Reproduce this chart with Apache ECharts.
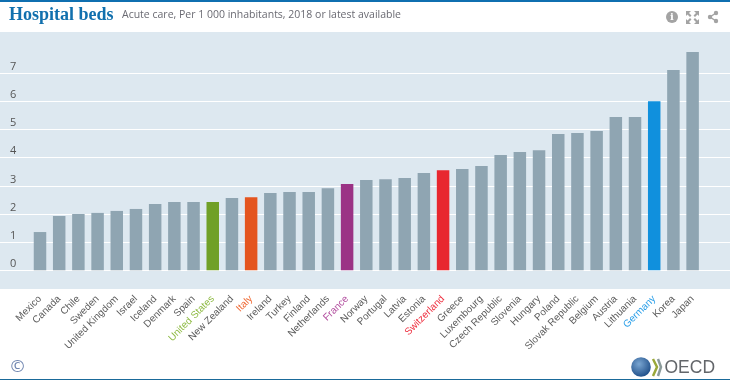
<!DOCTYPE html>
<html>
<head>
<meta charset="utf-8">
<style>
  html, body { margin: 0; padding: 0; background: #fff; }
  #chart { width: 730px; height: 380px; }
</style>
<script src="https://cdn.jsdelivr.net/npm/echarts@6/dist/echarts.min.js"></script>
</head>
<body>
<div id="chart"></div>
<script>
const countries = ['Mexico', 'Canada', 'Chile', 'Sweden', 'United Kingdom', 'Israel', 'Iceland', 'Denmark', 'Spain',
  'United States', 'New Zealand', 'Italy', 'Ireland', 'Turkey', 'Finland', 'Netherlands', 'France', 'Norway',
  'Portugal', 'Latvia', 'Estonia', 'Switzerland', 'Greece', 'Luxembourg', 'Czech Republic', 'Slovenia', 'Hungary',
  'Poland', 'Slovak Republic', 'Belgium', 'Austria', 'Lithuania', 'Germany', 'Korea', 'Japan'];
const beds = [1.36, 1.93, 2.0, 2.04, 2.11, 2.18, 2.36, 2.43, 2.43,
  2.43, 2.57, 2.6, 2.75, 2.78, 2.78, 2.92, 3.07, 3.21,
  3.24, 3.28, 3.46, 3.56, 3.6, 3.71, 4.1, 4.2, 4.27,
  4.84, 4.88, 4.95, 5.45, 5.45, 6.01, 7.12, 7.76];
const yTicks = [0, 1, 2, 3, 4, 5, 6, 7];

// highlighted countries: bar colour, label colour
const highlight = {
  'United States': ['#70a027', '#8fbb45'],
  'Italy': ['#e4551f', '#ef6a35'],
  'France': ['#9b3385', '#b350a0'],
  'Switzerland': ['#e8272f', '#ee3040'],
  'Germany': ['#1090dd', '#2b9fe8']
};

const iconGrey = '#a3a3a3';

// one corner arrow of the expand icon
function corner(p) {
  return { type: 'polygon', shape: { points: p }, style: { fill: iconGrey } };
}

const chart = echarts.init(document.getElementById('chart'));

chart.setOption({
  animation: false,
  backgroundColor: '#fff',
  textStyle: { fontFamily: '"Open Sans", sans-serif' },
  title: [
    {
      text: 'Hospital beds', left: 9, top: 6, padding: 0,
      textStyle: { fontFamily: '"Liberation Serif", serif', fontSize: 18, fontWeight: 'bold', color: '#1170ae' }
    },
    {
      text: 'Acute care, Per 1 000 inhabitants, 2018 or latest available', left: 122, top: 10, padding: 0,
      textStyle: { fontFamily: '"Open Sans", sans-serif', fontSize: 10.5, fontWeight: 'normal', color: '#6a6a72' }
    }
  ],
  grid: [
    // bars
    { left: 30.4, right: 27.8, top: 45.2, bottom: 109.7 },
    // full width grid lines
    { left: 0, right: 0, top: 73.3, bottom: 109.7 }
  ],
  xAxis: [
    {
      type: 'category', gridIndex: 0,
      data: countries.map(name => highlight[name]
        ? { value: name, textStyle: { color: highlight[name][1] } }
        : name),
      axisLine: { show: false },
      axisTick: { show: false },
      axisLabel: { interval: 0, rotate: 45, margin: 27, fontSize: 10, fontFamily: '"Liberation Sans", sans-serif', color: '#5c5c5c' }
    },
    { type: 'value', gridIndex: 1, min: 0, max: 1, show: false }
  ],
  yAxis: [
    { type: 'value', gridIndex: 0, min: 0, max: 8, show: false },
    {
      type: 'value', gridIndex: 1, min: yTicks[0], max: yTicks[yTicks.length - 1], interval: 1,
      axisLine: { show: false },
      axisTick: { show: false },
      splitLine: { show: true, lineStyle: { color: '#fff', width: 1 } },
      axisLabel: {
        inside: true, margin: 10, fontSize: 11, color: '#555',
        align: 'left', verticalAlign: 'bottom', lineHeight: 13
      }
    }
  ],
  series: [
    {
      type: 'bar', xAxisIndex: 0, yAxisIndex: 0, barWidth: 12.5, z: 3,
      data: beds.map((v, i) => ({
        value: v,
        itemStyle: { color: highlight[countries[i]] ? highlight[countries[i]][0] : '#8fa5b2' }
      }))
    }
  ],
  graphic: [
    { type: 'rect', z: -10, silent: true, shape: { x: 0, y: 32, width: 730, height: 257 }, style: { fill: '#dde8f0' } },
    { type: 'rect', shape: { x: 0, y: 0, width: 730, height: 2 }, style: { fill: '#0f6fb0' } },
    { type: 'rect', shape: { x: 0, y: 379, width: 730, height: 1 }, style: { fill: '#1a6a9a' } },
    // info icon
    { type: 'circle', shape: { cx: 672, cy: 17, r: 6 }, style: { fill: iconGrey } },
    { type: 'text', x: 672, y: 17, style: { text: 'i', fill: '#fff', font: 'bold 10px "DejaVu Serif"', align: 'center', verticalAlign: 'middle' } },
    // expand icon
    corner([[686, 11], [691, 11], [689, 13], [691.5, 15.5], [690, 17], [687.5, 14.5], [686, 16]]),
    corner([[699, 11], [694, 11], [696, 13], [693.5, 15.5], [695, 17], [697.5, 14.5], [699, 16]]),
    corner([[686, 24], [691, 24], [689, 22], [691.5, 19.5], [690, 18], [687.5, 20.5], [686, 19]]),
    corner([[699, 24], [694, 24], [696, 22], [693.5, 19.5], [695, 18], [697.5, 20.5], [699, 19]]),
    // share icon
    { type: 'polyline', shape: { points: [[716, 13], [710, 17], [716, 21]] }, style: { stroke: iconGrey, lineWidth: 1.5, fill: null } },
    { type: 'circle', shape: { cx: 716, cy: 13, r: 2.2 }, style: { fill: iconGrey } },
    { type: 'circle', shape: { cx: 710, cy: 17, r: 2.2 }, style: { fill: iconGrey } },
    { type: 'circle', shape: { cx: 716, cy: 21, r: 2.2 }, style: { fill: iconGrey } },
    // copyright
    { type: 'text', x: 17.5, y: 367, style: { text: '©', fill: '#7086b0', font: '17px "Open Sans"', align: 'center', verticalAlign: 'middle' } },
    // OECD logo
    {
      type: 'circle', shape: { cx: 641, cy: 367, r: 9.8 },
      style: {
        fill: {
          type: 'radial', x: 0.4, y: 0.35, r: 0.7,
          colorStops: [{ offset: 0, color: '#7aa6d2' }, { offset: 1, color: '#1d4c86' }]
        }
      }
    },
    { type: 'polyline', shape: { points: [[653, 359], [657, 367], [653, 376]] }, style: { stroke: '#9aa83a', lineWidth: 2.5, fill: null } },
    { type: 'polyline', shape: { points: [[658, 359], [661, 367], [658, 376]] }, style: { stroke: '#8a9a9a', lineWidth: 2.5, fill: null } },
    { type: 'text', x: 664.5, y: 368, style: { text: 'OECD', fill: '#63666a', font: '17.5px "Liberation Sans"', align: 'left', verticalAlign: 'middle' } }
  ]
});
</script>
</body>
</html>
